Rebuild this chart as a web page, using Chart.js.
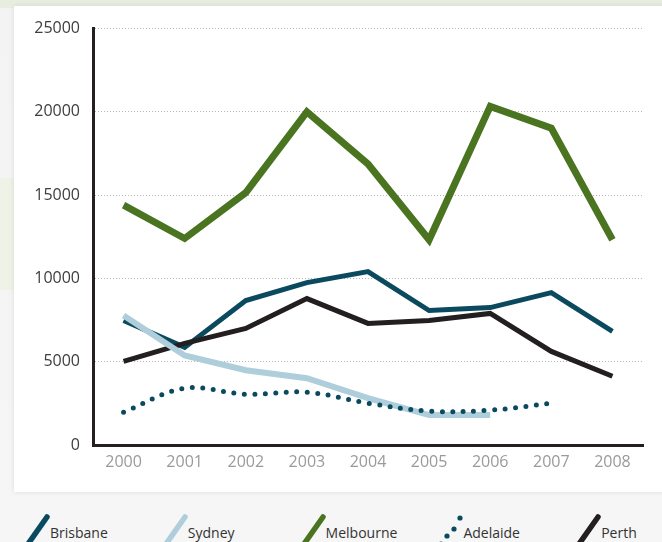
<!DOCTYPE html>
<html>
<head>
<meta charset="utf-8">
<script src="https://cdn.jsdelivr.net/npm/chart.js@4.4.1/dist/chart.umd.min.js"></script>
<style>
  html, body { margin: 0; padding: 0; }
  body {
    width: 662px; height: 542px; overflow: hidden; position: relative;
    background: linear-gradient(#f3f3f3, #f6f6f6);
    font-family: "Open Sans", sans-serif;
  }
  .topband { position: absolute; left: 0; top: 0; width: 662px; height: 8px; background: #e7eee0; }
  .leftband { position: absolute; left: 0; top: 178px; width: 16px; height: 112px; background: #eef2e7; }
  .panel {
    position: absolute; left: 14px; top: 6px; width: 660px; height: 486px;
    background: #fff; box-shadow: 0 0 5px rgba(0,0,0,0.10);
  }
  #wrap { position: absolute; left: 14px; top: 6px; width: 648px; height: 486px; }
  .legend-item { position: absolute; top: 512px; height: 34px; }
  .legend-item svg { position: absolute; left: 0; top: 0; }
  .legend-item span {
    position: absolute; left: 26px; top: 11px; font-size: 14px; color: #333; white-space: nowrap;
  }
</style>
</head>
<body>
<div class="topband"></div>
<div class="leftband"></div>
<div class="panel"></div>
<div id="wrap"><canvas id="chart"></canvas></div>
<div id="legend"></div>
<script>
const years = ["2000", "2001", "2002", "2003", "2004", "2005", "2006", "2007", "2008"];
const brisbane = [7480, 5860, 8670, 9750, 10410, 8070, 8250, 9150, 6820];
const sydney = [7780, 5380, 4490, 4010, 2810, 1800, 1800, null, null];
const melbourne = [14400, 12400, 15150, 20000, 16870, 12320, 20330, 19020, 12320];
const adelaide = [1970, 3410, 3050, 3170, 2510, 2030, 2090, 2510, null];
const perth = [5020, 6100, 7000, 8790, 7300, 7480, 7900, 5620, 4130];
const yTicks = [0, 5000, 10000, 15000, 20000, 25000];

const colors = {
  Brisbane: "#0b4a5e",
  Sydney: "#aecedb",
  Melbourne: "#4b7420",
  Adelaide: "#0b4a5e",
  Perth: "#231f20"
};

const ctx = document.getElementById("chart").getContext("2d");
const chart = new Chart(ctx, {
  type: "line",
  data: {
    labels: years,
    datasets: [
      { label: "Adelaide", data: adelaide, borderColor: colors.Adelaide, borderWidth: 5,
        borderDash: [0, 10.5], borderCapStyle: "round", tension: 0.35 },
      { label: "Sydney", data: sydney, borderColor: colors.Sydney, borderWidth: 6 },
      { label: "Perth", data: perth, borderColor: colors.Perth, borderWidth: 5 },
      { label: "Brisbane", data: brisbane, borderColor: colors.Brisbane, borderWidth: 5 },
      { label: "Melbourne", data: melbourne, borderColor: colors.Melbourne, borderWidth: 7 }
    ]
  },
  options: {
    responsive: true,
    maintainAspectRatio: false,
    animation: false,
    elements: { point: { radius: 0, hoverRadius: 0 }, line: { fill: false } },
    layout: { padding: { top: 21, right: 19, bottom: 0, left: 0 } },
    plugins: { legend: { display: false }, tooltip: { enabled: false } },
    scales: {
      x: {
        offset: true,
        grid: { display: false, drawTicks: false },
        border: { display: true, color: "#231f20", width: 3 },
        ticks: { color: "#9a9a9a", padding: 8, font: { family: "Open Sans", size: 16 } },
        afterFit: s => { s.height = 47; }
      },
      y: {
        min: 0, max: 25000,
        afterBuildTicks: s => { s.ticks = yTicks.map(v => ({ value: v })); },
        grid: { color: "#b5b5b5", lineWidth: 1, drawTicks: false },
        border: { display: true, color: "#231f20", width: 3, dash: [1, 2] },
        ticks: {
          color: "#3d3d3d", padding: 13, font: { family: "Open Sans", size: 16 },
          callback: v => String(v)
        },
        afterFit: s => { s.width = 79; }
      }
    }
  }
});

// legend underneath the panel
const order = ["Brisbane", "Sydney", "Melbourne", "Adelaide", "Perth"];
const legend = document.getElementById("legend");
order.forEach((name, i) => {
  const item = document.createElement("div");
  item.className = "legend-item";
  item.style.left = (24 + i * 137.8) + "px";
  let icon;
  if (name === "Adelaide") {
    icon = `<svg width="30" height="34"><g fill="${colors[name]}">
      <circle cx="4" cy="32" r="2.6"/><circle cx="10" cy="24" r="2.6"/>
      <circle cx="17" cy="17" r="2.6"/><circle cx="23" cy="6" r="2.6"/></g></svg>`;
  } else {
    icon = `<svg width="30" height="34"><line x1="4" y1="32" x2="23" y2="5"
      stroke="${colors[name]}" stroke-width="5.5" stroke-linecap="round"/></svg>`;
  }
  item.innerHTML = icon + `<span>${name}</span>`;
  legend.appendChild(item);
});
</script>
</body>
</html>
